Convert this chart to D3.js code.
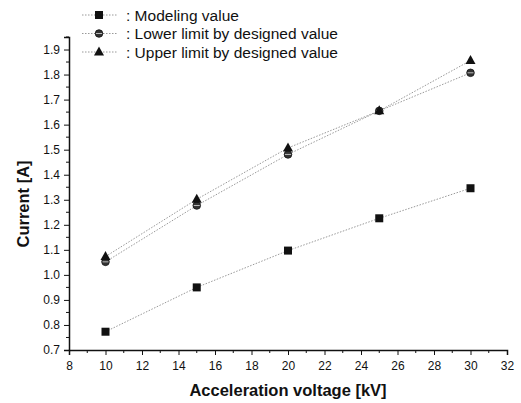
<!DOCTYPE html>
<html>
<head>
<meta charset="utf-8">
<script src="https://cdn.jsdelivr.net/npm/d3@7"></script>
<style>
	body { margin: 0; background: #fff; }
	text { font-family: "Liberation Sans", Arial, sans-serif; fill: #111; }
</style>
</head>
<body>
<svg id="chart" width="521" height="403"></svg>
<script>
// data
var voltage = [10, 15, 20, 25, 30];
var modeling = [0.773, 0.95, 1.097, 1.226, 1.346];
var lowerLimit = [1.052, 1.277, 1.481, 1.655, 1.807];
var upperLimit = [1.073, 1.302, 1.507, 1.655, 1.856];
var seriesNames = [": Modeling value", ": Lower limit by designed value", ": Upper limit by designed value"];
var xTicks = [8, 10, 12, 14, 16, 18, 20, 22, 24, 26, 28, 30, 32];
var yTicks = [0.7, 0.8, 0.9, 1.0, 1.1, 1.2, 1.3, 1.4, 1.5, 1.6, 1.7, 1.8, 1.9];

var svg = d3.select("#chart");
var plot = { left: 69, right: 507, top: 37, bottom: 350 };

var x = d3.scaleLinear().domain([8, 32]).range([plot.left, plot.right]);
var y = d3.scaleLinear().domain([0.7, 1.95]).range([plot.bottom, plot.top]);

var series = [
	{ name: seriesNames[0], values: modeling, symbol: "square" },
	{ name: seriesNames[1], values: lowerLimit, symbol: "circle" },
	{ name: seriesNames[2], values: upperLimit, symbol: "triangle" }
];

function drawMarker(g, type, cx, cy) {
	if (type === "square") {
		g.append("rect")
			.attr("x", cx - 4).attr("y", cy - 4)
			.attr("width", 8).attr("height", 8)
			.attr("fill", "#111");
	} else if (type === "circle") {
		g.append("circle")
			.attr("cx", cx).attr("cy", cy).attr("r", 3.8)
			.attr("fill", "#333").attr("stroke", "#111").attr("stroke-width", 0.8);
		g.append("path")
			.attr("d", "M" + (cx - 3) + "," + cy + "H" + (cx + 3))
			.attr("stroke", "#bbb").attr("stroke-width", 1);
	} else {
		g.append("path")
			.attr("d", "M" + cx + "," + (cy - 5.5) + "L" + (cx + 5) + "," + (cy + 3.5) + "L" + (cx - 5) + "," + (cy + 3.5) + "Z")
			.attr("fill", "#111");
	}
}

// axes (left and bottom only)
var xAxis = svg.append("g")
	.attr("transform", "translate(0," + plot.bottom + ")")
	.call(d3.axisBottom(x).tickValues(xTicks).tickSize(5).tickPadding(6).tickFormat(d3.format("d")));
xAxis.append("g").selectAll("line")
	.data(d3.range(9, 32, 2))
	.enter().append("line")
	.attr("x1", function(d) { return x(d); })
	.attr("x2", function(d) { return x(d); })
	.attr("y1", 0).attr("y2", 3)
	.attr("stroke", "#111");

var yAxis = svg.append("g")
	.attr("transform", "translate(" + plot.left + ",0)")
	.call(d3.axisLeft(y).tickValues(yTicks).tickSize(5).tickPadding(4).tickFormat(d3.format(".1f")));
yAxis.append("g").selectAll("line")
	.data(d3.range(0.75, 1.96, 0.1))
	.enter().append("line")
	.attr("y1", function(d) { return y(d); })
	.attr("y2", function(d) { return y(d); })
	.attr("x1", 0).attr("x2", -3)
	.attr("stroke", "#111");

svg.selectAll(".domain").attr("stroke", "#111").attr("stroke-width", 1.5);
svg.selectAll(".tick line").attr("stroke", "#111");
svg.selectAll(".tick text").style("font-size", "12px").attr("fill", "#222");

// axis titles
svg.append("text")
	.attr("x", 288)
	.attr("y", 396)
	.attr("text-anchor", "middle")
	.style("font-size", "16.5px")
	.style("font-weight", "bold")
	.text("Acceleration voltage [kV]");

svg.append("text")
	.attr("transform", "translate(29,204) rotate(-90)")
	.attr("text-anchor", "middle")
	.style("font-size", "16.5px")
	.style("font-weight", "bold")
	.text("Current [A]");

// lines
var line = d3.line()
	.x(function(d, i) { return x(voltage[i]); })
	.y(function(d) { return y(d); });

svg.append("g").selectAll("path")
	.data(series)
	.enter().append("path")
	.attr("d", function(d) { return line(d.values); })
	.attr("fill", "none")
	.attr("stroke", "#999")
	.attr("stroke-width", 1)
	.attr("stroke-dasharray", "1.5,1.5");

// markers
series.forEach(function(s) {
	var g = svg.append("g");
	s.values.forEach(function(v, i) {
		drawMarker(g, s.symbol, x(voltage[i]), y(v));
	});
});

// legend
var legend = svg.append("g");
series.forEach(function(s, i) {
	var ly = 15 + i * 18.5;
	legend.append("line")
		.attr("x1", 82).attr("x2", 118)
		.attr("y1", ly).attr("y2", ly)
		.attr("stroke", "#999")
		.attr("stroke-dasharray", "1.5,1.5");
	drawMarker(legend, s.symbol, 99, ly);
	legend.append("text")
		.attr("x", 126)
		.attr("y", ly + 5.5)
		.style("font-size", "15.5px")
		.text(s.name);
});
</script>
</body>
</html>
